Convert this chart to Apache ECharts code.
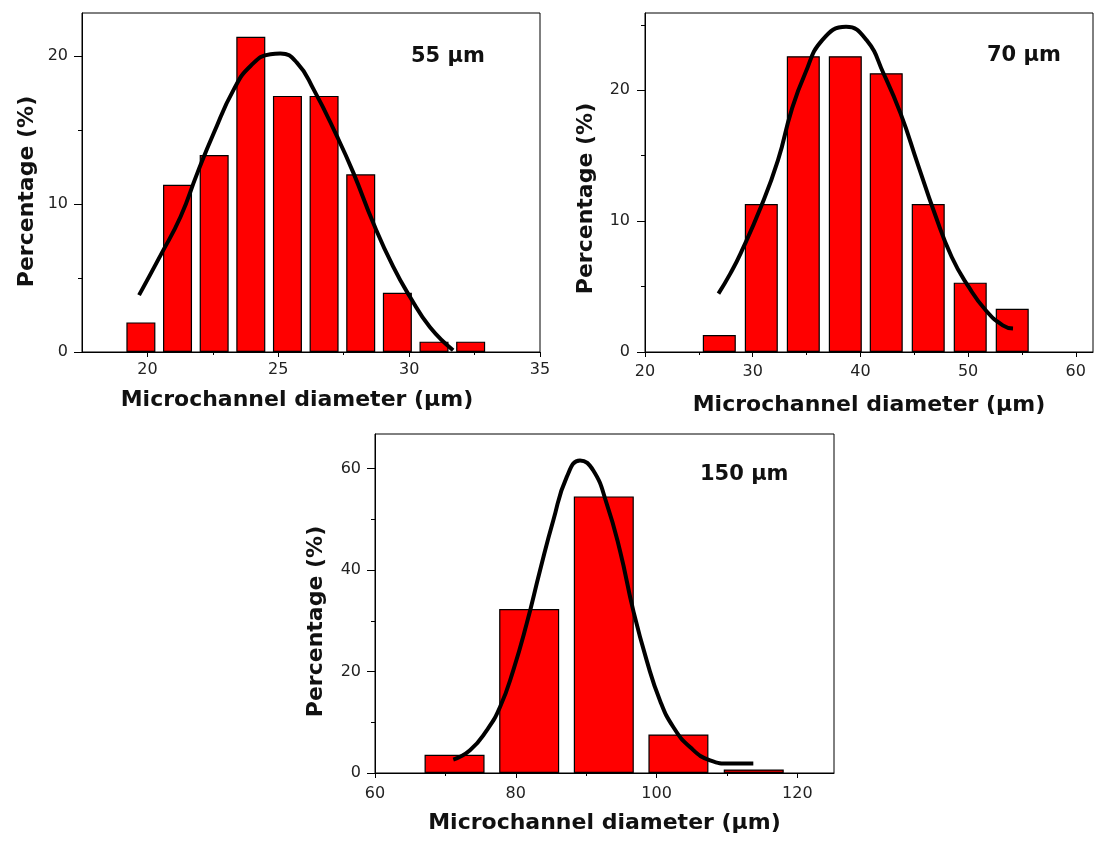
<!DOCTYPE html>
<html lang="en">
<head>
    <meta charset="UTF-8">
    <title>Microchannel diameter distribution</title>
    <script src="https://cdn.jsdelivr.net/npm/echarts@6/dist/echarts.min.js"></script>
</head>
<style>
    body{
        margin: 0;
        background-color: #fff;
    }
    #chart{
        width: 1094px;
        height: 842px;
    }
</style>
<body>
    <div id="chart"></div>
    <script>
        // 55 um channels
        var p1Centers=[19.75,21.15,22.55,23.95,25.35,26.75,28.15,29.55,30.95,32.35];
        var p1Pct=[2.0,11.3,13.3,21.3,17.3,17.3,12.0,4.0,0.7,0.7];
        var p1Fit=[[19.68,3.84],[20.51,6.56],[21.27,9.15],[21.91,12.10],[22.54,14.81],[23.30,17.74],
                   [23.94,19.32],[24.70,20.12],[25.08,20.16],[25.71,19.55],[26.35,17.74],[27.24,14.58],
                   [27.87,12.10],[28.63,8.71],[29.39,5.76],[30.03,3.73],[30.79,1.69],[31.68,0.12]];
        var p1XTicks=[20,25,30,35], p1XMinor=[22.5,27.5,32.5];
        var p1YTicks=[0,10,20], p1YMinor=[5,15];

        // 70 um channels
        var p2Centers=[26.9,30.8,34.7,38.6,42.4,46.3,50.2,54.1];
        var p2Pct=[1.3,11.3,22.6,22.6,21.3,11.3,5.3,3.3];
        var p2Fit=[[26.82,4.46],[27.92,5.99],[28.87,7.52],[30.77,11.09],[32.35,14.66],[33.61,18.48],
                   [34.87,21.28],[36.46,23.83],[38.67,24.85],[40.57,23.83],[42.15,21.28],[43.73,18.23],
                   [45.31,14.40],[46.90,10.58],[48.48,7.26],[50.06,4.97],[51.64,3.19],[53.22,2.04],[54.17,1.79]];
        var p2XTicks=[20,30,40,50,60], p2XMinor=[25,35,45,55];
        var p2YTicks=[0,10,20], p2YMinor=[5,15,25];

        // 150 um channels
        var p3Centers=[71.3,81.9,92.5,103.1,113.8];
        var p3Pct=[3.6,32.3,54.5,7.6,0.7];
        var p3Fit=[[71.12,2.64],[73.49,4.47],[75.87,8.41],[77.76,13.0],[79.64,20.24],[81.55,29.44],
                   [83.44,39.9],[85.33,49.8],[87.23,58.3],[89.12,61.6],[91.01,59.6],[92.91,53.1],
                   [94.80,43.8],[96.69,32.0],[98.59,22.2],[100.48,14.3],[102.37,9.06],[104.74,5.12],
                   [107.59,2.50],[110.43,1.85],[113.74,1.85]];
        var p3XTicks=[60,80,100,120], p3XMinor=[70,90,110];
        var p3YTicks=[0,20,40,60], p3YMinor=[10,30,50];

        var xTitle='Microchannel diameter (μm)';
        var yTitle='Percentage (%)';
        var labels=['55 μm','70 μm','150 μm'];

        var FONT='"DejaVu Sans", "Liberation Sans", Arial, sans-serif';

        function mainAxis(dim,grid,min,max,ticks,name,gap,margin,pad){
            return {
                type:'value', gridIndex:grid, min:min, max:max,
                position: dim=='x' ? 'bottom' : 'left',
                axisLine:{show:true, onZero:false, lineStyle:{color:'#000', width:1}},
                axisTick:{show:true, customValues:ticks, length: dim=='x' ? 5 : 8, lineStyle:{color:'#000'}},
                axisLabel:{customValues:ticks, margin:margin, fontFamily:FONT, fontSize:16, color:'#222'},
                splitLine:{show:false},
                name:name, nameLocation:'middle', nameGap:gap,
                nameTextStyle:{fontFamily:FONT, fontSize:22, fontWeight:'bold', color:'#111', padding:pad}
            };
        }
        function minorAxis(dim,grid,min,max,ticks){
            return {
                type:'value', gridIndex:grid, min:min, max:max,
                position: dim=='x' ? 'bottom' : 'left',
                axisLine:{show:false},
                axisTick:{show:true, customValues:ticks, length: dim=='x' ? 3 : 4, lineStyle:{color:'#000'}},
                axisLabel:{show:false},
                splitLine:{show:false}
            };
        }
        function pairs(xs,ys){
            return xs.map(function(x,i){ return [x,ys[i]]; });
        }
        function bars(axis,data,w){
            return {
                type:'bar', xAxisIndex:axis, yAxisIndex:axis, data:data, barWidth:w,
                itemStyle:{color:'#ff0000', borderColor:'#000', borderWidth:1.2}
            };
        }
        function fit(axis,data){
            return {
                type:'line', xAxisIndex:axis, yAxisIndex:axis, data:data, smooth:0.5,
                showSymbol:false, symbol:'none', z:5,
                lineStyle:{color:'#000', width:4}
            };
        }

        var chart=echarts.init(document.getElementById('chart'));
        chart.setOption({
            animation:false,
            backgroundColor:'#fff',
            grid:[
                {left:82, top:13, width:458, height:339, show:true, borderColor:'#000', borderWidth:1},
                {left:645, top:13, width:448, height:339, show:true, borderColor:'#000', borderWidth:1},
                {left:375, top:434, width:459, height:339, show:true, borderColor:'#000', borderWidth:1}
            ],
            xAxis:[
                mainAxis('x',0,17.5,35,p1XTicks,xTitle,37,10,[0,28,0,0]),
                mainAxis('x',1,20,61.6,p2XTicks,xTitle,42,12,[0,0,0,0]),
                mainAxis('x',2,60,125.2,p3XTicks,xTitle,39,13,[0,0,0,0]),
                minorAxis('x',0,17.5,35,p1XMinor),
                minorAxis('x',1,20,61.6,p2XMinor),
                minorAxis('x',2,60,125.2,p3XMinor)
            ],
            yAxis:[
                mainAxis('y',0,0,22.9,p1YTicks,yTitle,44,14,[0,18,0,0]),
                mainAxis('y',1,0,25.9,p2YTicks,yTitle,48,15,[0,32,0,0]),
                mainAxis('y',2,0,66.8,p3YTicks,yTitle,48,14,[0,36,0,0]),
                minorAxis('y',0,0,22.9,p1YMinor),
                minorAxis('y',1,0,25.9,p2YMinor),
                minorAxis('y',2,0,66.8,p3YMinor)
            ],
            graphic:[
                {type:'text', x:411, y:57, style:{text:labels[0], font:'bold 21px '+FONT, fill:'#111', verticalAlign:'middle'}},
                {type:'text', x:987, y:56, style:{text:labels[1], font:'bold 21px '+FONT, fill:'#111', verticalAlign:'middle'}},
                {type:'text', x:700, y:475, style:{text:labels[2], font:'bold 21px '+FONT, fill:'#111', verticalAlign:'middle'}}
            ],
            series:[
                bars(0,pairs(p1Centers,p1Pct),29),
                fit(0,p1Fit),
                bars(1,pairs(p2Centers,p2Pct),33),
                fit(1,p2Fit),
                bars(2,pairs(p3Centers,p3Pct),60),
                fit(2,p3Fit)
            ]
        });
    </script>
</body>
</html>
